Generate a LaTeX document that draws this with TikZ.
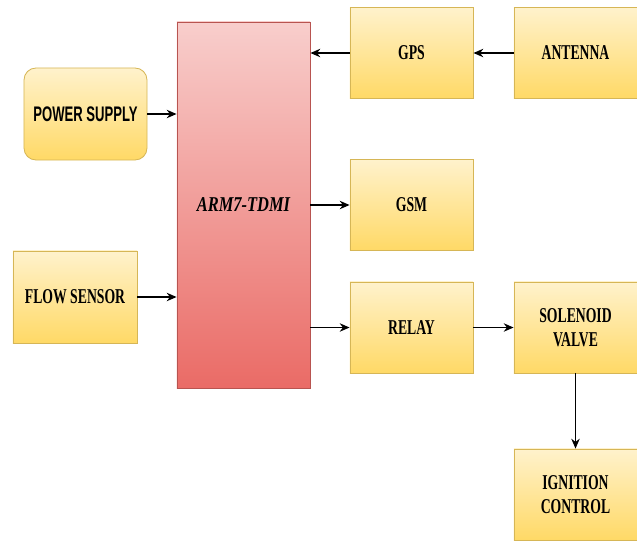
\documentclass[tikz,border=0pt]{standalone}
\usepackage{fontspec}
\usetikzlibrary{positioning,arrows.meta}
\newfontfamily\boxfont[FakeStretch=0.65]{Liberation Serif}
\newfontfamily\armfont[FakeStretch=0.78]{Liberation Serif}
\newfontfamily\psfont[FakeStretch=0.62]{Liberation Sans}
\definecolor{ylwtop}{HTML}{FFF2CC}
\definecolor{ylwbot}{HTML}{FFD966}
\definecolor{ylwline}{HTML}{D6B656}
\definecolor{redtop}{HTML}{F8CECC}
\definecolor{redbot}{HTML}{EA6B66}
\definecolor{redline}{HTML}{B85450}

\begin{document}
\begin{tikzpicture}[x=0.025cm, y=-0.025cm,
        block/.style={rectangle, draw=ylwline, line width=0.6pt, top color=ylwtop, bottom color=ylwbot, text=black, minimum width=3.075cm, minimum height=2.275cm, align=center, font=\boxfont\bfseries\fontsize{15}{17}\selectfont},
        mcu/.style={rectangle, draw=redline, line width=0.6pt, top color=redtop, bottom color=redbot, text=black, minimum width=3.325cm, minimum height=9.15cm, font=\armfont\bfseries\itshape\fontsize{15}{17}\selectfont},
        arr/.style={-{Stealth[length=7pt,width=6pt]}, line width=0.9pt, black}
    ]
    \useasboundingbox (0,0) rectangle (637,540);

    % Controller
    \node[mcu] (arm) at (243.5,205) {ARM7-TDMI};

    % Inputs
    \node[block, rounded corners=0.3cm, minimum height=2.3cm, font=\psfont\bfseries\fontsize{15}{17}\selectfont] (power) at (85.5,114) {POWER SUPPLY};
    \node[block, minimum width=3.1cm, minimum height=2.3cm] (flow) at (75,297) {FLOW SENSOR};
    \node[block] (gps) at (411.5,53) {GPS};
    \node[block] (antenna) at (575.5,53) {ANTENNA};

    % Outputs
    \node[block] (gsm) at (411.5,205) {GSM};
    \node[block] (relay) at (411.5,327.5) {RELAY};
    \node[block] (valve) at (575.5,327.5) {SOLENOID\\VALVE};
    \node[block] (ignition) at (575.5,494.5) {IGNITION\\CONTROL};

    \draw[arr] (antenna) -- (gps);
    \draw[arr] (gps.west) -- (gps.west -| arm.east);
    \draw[arr] (power.east) -- (power.east -| arm.west);
    \draw[arr] (flow.east) -- (flow.east -| arm.west);
    \draw[arr] (gsm.west -| arm.east) -- (gsm.west);
    \draw[arr] (relay.west -| arm.east) -- (relay.west);
    \draw[arr] (relay) -- (valve);
    \draw[arr] (valve) -- (ignition);
\end{tikzpicture}
\end{document}
